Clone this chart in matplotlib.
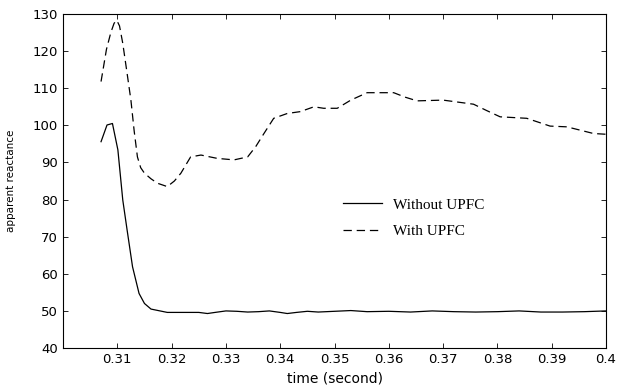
import numpy as np
import matplotlib
matplotlib.use("Agg")
import matplotlib.pyplot as plt

# time axis values (s)
t_with = [0.3070, 0.3080, 0.3088, 0.3094, 0.3099, 0.3104, 0.3110, 0.3118, 0.3125,
          0.3131, 0.3137, 0.3143, 0.3150, 0.3162, 0.3174, 0.3192, 0.3205,
          0.3217, 0.3235, 0.3254, 0.3284, 0.3315, 0.3340, 0.3355, 0.3370, 0.3388,
          0.3413, 0.3437, 0.3462, 0.3480, 0.3505, 0.3530, 0.3560, 0.3609, 0.3630,
          0.3652, 0.3700, 0.3756, 0.3780, 0.3805, 0.3854, 0.3897, 0.3928, 0.3977,
          0.4000]
x_with = [111.8, 120.5, 125.0, 127.5, 128.3, 126.8, 122.1, 114.0, 106.8,
          98.5, 91.5, 88.6, 87.1, 85.6, 84.4, 83.5, 85.0,
          87.1, 91.5, 92.0, 91.1, 90.7, 91.5, 94.3, 97.8, 101.9,
          103.2, 103.7, 105.0, 104.6, 104.6, 106.8, 108.8, 108.8, 107.6,
          106.6, 106.8, 105.7, 104.0, 102.3, 101.9, 99.8, 99.6, 97.8,
          97.6]

t_without = [0.3070, 0.3081, 0.3091, 0.3101, 0.3110, 0.3118, 0.3128, 0.3140, 0.3150,
             0.3162, 0.3192, 0.3220, 0.3250, 0.3266, 0.3280, 0.3300, 0.3320, 0.3340,
             0.3360, 0.3380, 0.3400, 0.3413, 0.3430, 0.3450, 0.3470, 0.3500, 0.3530,
             0.3560, 0.3600, 0.3640, 0.3680, 0.3720, 0.3760, 0.3800, 0.3840, 0.3880,
             0.3920, 0.3960, 0.4000]
x_without = [95.6, 100.1, 100.5, 93.4, 79.9, 71.8, 61.9, 54.7, 52.0,
             50.5, 49.6, 49.6, 49.6, 49.3, 49.6, 50.0, 49.9, 49.7,
             49.8, 50.0, 49.6, 49.3, 49.6, 49.9, 49.7, 49.9, 50.1,
             49.8, 49.9, 49.7, 50.0, 49.8, 49.7, 49.8, 50.0, 49.7,
             49.7, 49.8, 50.0]

xticks = [0.31, 0.32, 0.33, 0.34, 0.35, 0.36, 0.37, 0.38, 0.39, 0.40]
xticklabels = ["0.31", "0.32", "0.33", "0.34", "0.35", "0.36", "0.37", "0.38", "0.39", "0.4"]
yticks = [40, 50, 60, 70, 80, 90, 100, 110, 120, 130]

plt.rcParams['font.family'] = ['DejaVu Sans']
plt.rcParams['lines.scale_dashes'] = False

fig = plt.figure(figsize=(6.18, 3.85), dpi=100)
ax = fig.add_axes([0.102, 0.096, 0.8786, 0.8676])

ax.plot(t_without, x_without, color='black', lw=0.9, label='Without UPFC')
ax.plot(t_with, x_with, color='black', lw=0.9, dashes=(6, 3.5), label='With UPFC')

ax.set_xlim(0.30, 0.40)
ax.set_ylim(40, 130)
ax.set_xticks(xticks)
ax.set_xticklabels(xticklabels)
ax.set_yticks(yticks)
ax.tick_params(direction='in', top=True, right=True, labelsize=9.5, length=3.6, width=0.6)
for s in ax.spines.values():
    s.set_linewidth(0.8)

ax.set_xlabel('time (second)', fontsize=10, labelpad=4)
ax.set_ylabel('apparent reactance', fontsize=7.5, labelpad=12)

leg = ax.legend(loc='upper left', bbox_to_anchor=(0.49, 0.49), frameon=False,
                handlelength=2.55, handletextpad=0.72, labelspacing=0.85,
                prop={'family': 'Liberation Serif', 'size': 11})

fig.savefig('out.png', dpi=100)
